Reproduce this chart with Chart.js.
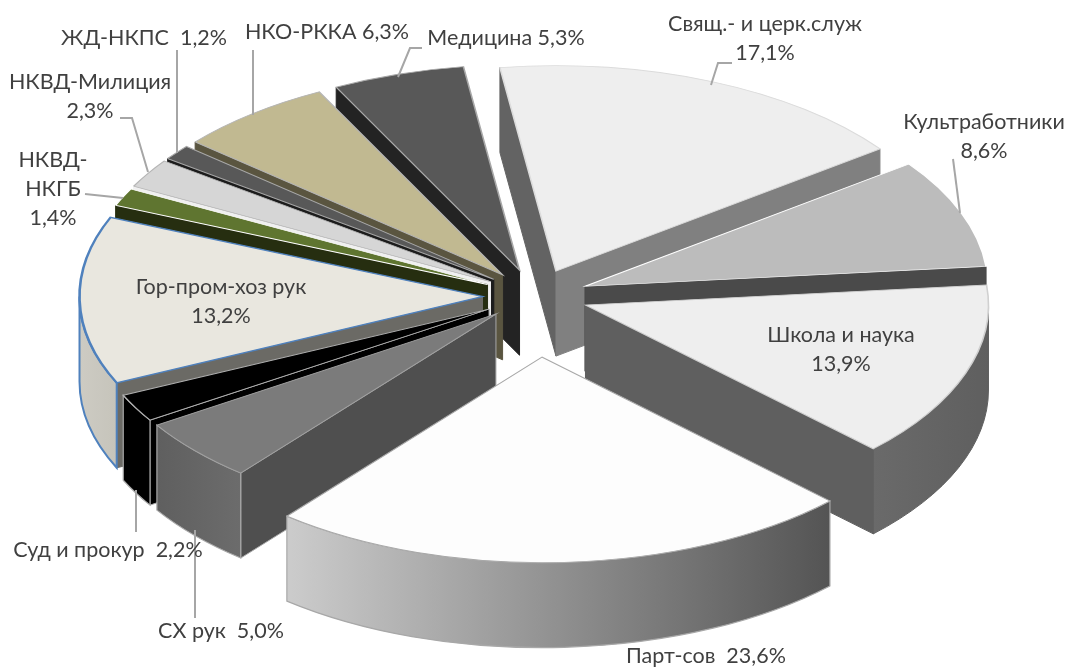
<!DOCTYPE html>
<html><head><meta charset="utf-8">
<style>html,body{margin:0;padding:0;background:#fff}canvas{display:block}</style>
<script src="https://cdn.jsdelivr.net/npm/chart.js@4"></script>
</head><body>
<canvas id="c" width="1068" height="668"></canvas>
<script>
const categories = ['Свящ.- и церк.служ','Культработники','Школа и наука','Парт-сов','СХ рук','Суд и прокур','Гор-пром-хоз рук','НКВД-НКГБ','НКВД-Милиция','ЖД-НКПС','НКО-РККА','Медицина'];
const values = [17.1,8.6,13.9,23.6,5.0,2.2,13.2,1.4,2.3,1.2,6.3,5.3];
const explode = [53,53,53,120,53,53,53,53,53,53,53,53];
const topColors = ['#eeeeee','#bcbcbc','#eeeeee','#fdfdfd','#7b7b7b','#000000','#e9e7df','#5f7530','#d6d6d6','#585858','#c1b991','#585858'];
const edgeColors = ['#dcdcdc','#ffffff','#d0d0d0','#a8a8a8','#a0a0a0','#b0b0b0','#4f81bd','#ffffff','#b5b5b5','#a8a8a8','#b5b5b5','#a8a8a8'];
const edgeWidths = [1.6,1.6,1.6,1.6,1.6,1.6,2.6,1.6,1.6,1.6,1.6,1.6];
const startFace = ['#636363','#4a4a4a','#5f5f5f','#555555','#4f4f4f','#000000','#6b6a65','#262e10','#f0f0f0','#1c1c1c','#5a5540','#232323'];
const endFace = ['#808080','#4a4a4a','#5f5f5f','#555555','#4f4f4f','#000000','#6b6a65','#262e10','#f0f0f0','#1c1c1c','#5a5540','#232323'];
const rimLeft = ['#808080','#4a4a4a','#6a6a6a','#cccccc','#5f5f5f','#000000','#cdcbc3','#262e10','#aaaaaa','#333333','#5a5540','#232323'];
const rimRight = ['#808080','#4a4a4a','#5f5f5f','#545454','#6c6c6c','#000000','#c6c4bb','#262e10','#aaaaaa','#333333','#5a5540','#232323'];
const wallEdges = [null,null,null,'#a8a8a8','#a8a8a8','#a8a8a8','#4f81bd',null,null,null,null,null];
const labelText = [['Свящ.- и церк.служ','17,1%'],['Культработники','8,6%'],['Школа и наука','13,9%'],['Парт-сов  23,6%'],['СХ рук  5,0%'],['Суд и прокур  2,2%'],['Гор-пром-хоз рук','13,2%'],['НКВД-','НКГБ','1,4%'],['НКВД-Милиция','2,3%'],['ЖД-НКПС  1,2%'],['НКО-РККА 6,3%'],['Медицина 5,3%']];
const labelAnchor = [[765,24],[984,122],[841,335],[706,656],[221,631],[108,550],[221,287],[53,160],[90,82],[144,38],[327,32],[506,38]];
const leaders = [[[711,85],[718,63],[732,63]],[[960,213],[953,159]],[],[],[[195,530],[195,618]],[[136,490],[136,532]],[],[[85,194],[123,198]],[[120,118],[132,118],[148,172]],[[177,50],[177,153]],[[253,50],[253,115]],[[398,77],[410,48],[422,48]]];
const TILT = 0.51, DEPTH = 85, START_DEG = -8, RADIUS = 403;

const pie3d = {
  id:'pie3d',
  beforeDatasetDraw(chart,args){
    const ctx = chart.ctx, arcs = chart.getDatasetMeta(args.index).data;
    const order = arcs.map((a,i)=>i).sort((p,q)=>
      Math.sin((arcs[p].startAngle+arcs[p].endAngle)/2)-Math.sin((arcs[q].startAngle+arcs[q].endAngle)/2));
    for(const i of order){
      const a = arcs[i], mid=(a.startAngle+a.endAngle)/2, r=a.outerRadius;
      const cx=a.x+explode[i]*Math.cos(mid), cy=a.y+TILT*explode[i]*Math.sin(mid);
      const rx=t=>cx+r*Math.cos(t), ry=t=>cy+TILT*r*Math.sin(t);
      const face=(t,color)=>{
        ctx.beginPath();ctx.moveTo(cx,cy);ctx.lineTo(rx(t),ry(t));ctx.lineTo(rx(t),ry(t)+DEPTH);ctx.lineTo(cx,cy+DEPTH);ctx.closePath();
        ctx.fillStyle=color;ctx.fill();
        ctx.strokeStyle=wallEdges[i]&&i!==6?wallEdges[i]:color;ctx.lineWidth=1;ctx.stroke();
      };
      if(Math.cos(a.startAngle)<0) face(a.startAngle,startFace[i]);
      if(Math.cos(a.endAngle)>0) face(a.endAngle,endFace[i]);
      // outer rim: the part of the arc that faces the viewer
      const norm=t=>{let v=t%(2*Math.PI);return v<0?v+2*Math.PI:v;};
      let s=norm(a.startAngle), e=s+(a.endAngle-a.startAngle);
      const ranges=[[s,Math.min(e,Math.PI)]];
      if(e>2*Math.PI) ranges.push([2*Math.PI,Math.min(e,3*Math.PI)]);
      for(const [u,v] of ranges){
        if(v<=u) continue;
        ctx.beginPath();
        ctx.ellipse(cx,cy,r,TILT*r,0,u,v);
        ctx.ellipse(cx,cy+DEPTH,r,TILT*r,0,v,u,true);
        ctx.closePath();
        const g=ctx.createLinearGradient(Math.min(rx(u),rx(v)),0,Math.max(rx(u),rx(v)),0);
        g.addColorStop(0,rimLeft[i]);g.addColorStop(1,rimRight[i]);
        ctx.fillStyle=g;ctx.fill();
        ctx.strokeStyle=wallEdges[i]||rimRight[i];ctx.lineWidth=wallEdges[i]?(i===6?2:1.2):1;ctx.stroke();
      }
      ctx.save();
      ctx.translate(cx,cy);ctx.scale(1,TILT);ctx.translate(-a.x,-a.y);
      a.draw(ctx);
      ctx.restore();
    }
    return false;
  },
  afterDraw(chart){
    const ctx=chart.ctx;
    ctx.save();
    ctx.strokeStyle='#a6a6a6';ctx.lineWidth=2;
    for(const path of leaders){
      if(!path.length) continue;
      ctx.beginPath();path.forEach((p,j)=>j?ctx.lineTo(p[0],p[1]):ctx.moveTo(p[0],p[1]));ctx.stroke();
    }
    ctx.fillStyle='#404040';ctx.font='21.5px Lato, "Open Sans", sans-serif';ctx.textAlign='center';ctx.textBaseline='middle';
    labelText.forEach((lines,i)=>lines.forEach((t,j)=>ctx.fillText(t,labelAnchor[i][0],labelAnchor[i][1]+j*29)));
    ctx.restore();
  }
};

new Chart(document.getElementById('c'),{
  type:'pie',
  data:{labels:categories,datasets:[{data:values,backgroundColor:topColors,borderColor:edgeColors,borderWidth:edgeWidths,borderJoinStyle:'miter',clip:false}]},
  options:{responsive:false,animation:false,rotation:START_DEG,radius:RADIUS,
    layout:{padding:{left:3,bottom:76}},
    plugins:{legend:{display:false},tooltip:{enabled:false}},events:[]},
  plugins:[pie3d]
});
</script>
</body></html>
